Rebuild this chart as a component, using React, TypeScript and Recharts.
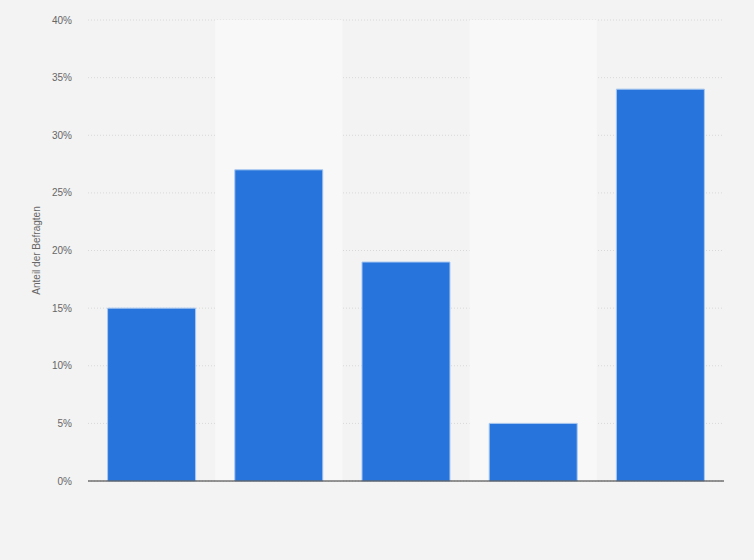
import React from 'react'
import {
  BarChart,
  Bar,
  XAxis,
  YAxis,
  CartesianGrid,
  ReferenceArea,
  Label,
} from 'recharts'

// categories have no visible labels in the source chart
const categories = ['A', 'B', 'C', 'D', 'E']
const shares = [15, 27, 19, 5, 34]
const yTicks = [0, 5, 10, 15, 20, 25, 30, 35, 40]
const shadedCategories = ['B', 'D']

const data = categories.map((name, i) => ({ name, value: shares[i] }))

const FONT = '"Liberation Sans", Arial, sans-serif'

export default function App() {
  return (
    <div
      style={{
        position: 'absolute',
        top: 0,
        left: 0,
        width: 754,
        height: 560,
        background: '#f3f3f3',
        fontFamily: FONT,
      }}
    >
      <BarChart
        width={754}
        height={560}
        data={data}
        margin={{ top: 20, right: 30, bottom: 49, left: 0 }}
        barCategoryGap="15.4%"
      >
        {shadedCategories.map((c) => (
          <ReferenceArea key={c} x1={c} x2={c} fill="#f8f8f8" fillOpacity={1} stroke="none" />
        ))}
        <CartesianGrid vertical={false} stroke="#d8d8d8" strokeDasharray="1 2" />
        <XAxis
          dataKey="name"
          tick={false}
          tickLine={false}
          axisLine={{ stroke: '#333', strokeWidth: 1 }}
          height={30}
        />
        <YAxis
          width={88}
          domain={[0, 40]}
          ticks={yTicks}
          tickFormatter={(v) => `${v}%`}
          axisLine={false}
          tickLine={false}
          tickSize={0}
          tickMargin={16}
          tick={{ fill: '#666', fontSize: 10, fontFamily: FONT }}
        >
          <Label
            content={({ viewBox }: any) => {
              const cy = viewBox.y + viewBox.height / 2
              const cx = 40
              return (
                <text
                  x={cx}
                  y={cy}
                  transform={`rotate(-90 ${cx} ${cy})`}
                  textAnchor="middle"
                  fill="#666"
                  fontSize={10}
                  fontFamily={FONT}
                >
                  Anteil der Befragten
                </text>
              )
            }}
          />
        </YAxis>
        <Bar dataKey="value" fill="#2775dc" stroke="#a9c8f0" strokeWidth={1} isAnimationActive={false} />
      </BarChart>
    </div>
  )
}
